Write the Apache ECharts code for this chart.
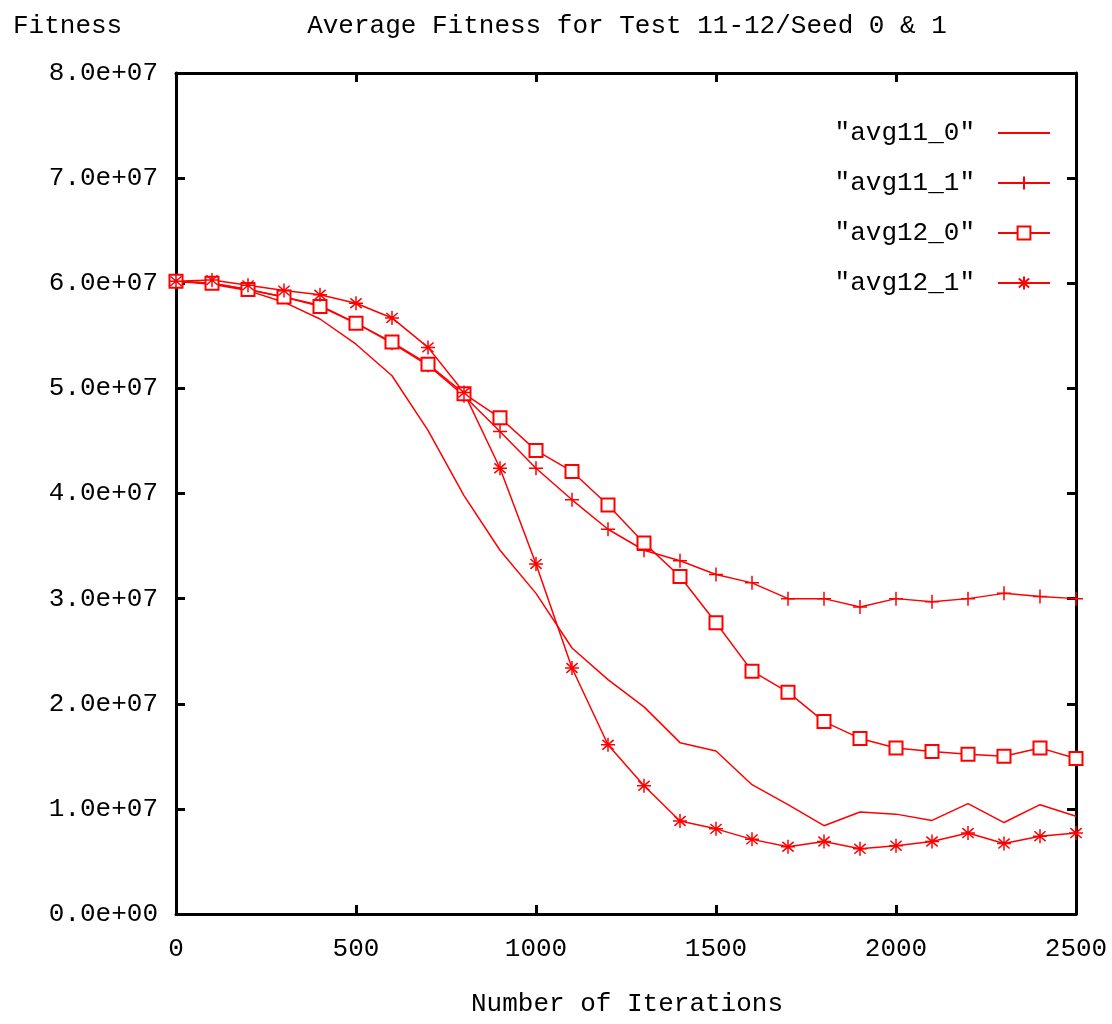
<!DOCTYPE html>
<html>
<head>
<meta charset="utf-8">
<script src="https://cdn.jsdelivr.net/npm/echarts@6/dist/echarts.min.js"></script>
<style>
html,body{margin:0;padding:0;background:#fff;}
#chart{width:1112px;height:1024px;}
</style>
</head>
<body>
<div id="chart"></div>
<script>
const iterations = [0,100,200,300,400,500,600,700,800,900,1000,1100,1200,1300,1400,1500,1600,1700,1800,1900,2000,2100,2200,2300,2400,2500];
const avg11_0 = [6.02e7,5.99e7,5.93e7,5.82e7,5.66e7,5.42e7,5.12e7,4.6e7,3.98e7,3.46e7,3.05e7,2.53e7,2.23e7,1.97e7,1.63e7,1.55e7,1.23e7,1.04e7,0.84e7,0.97e7,0.95e7,0.89e7,1.05e7,0.87e7,1.04e7,0.93e7];
const avg11_1 = [6.02e7,6.0e7,5.94e7,5.87e7,5.79e7,5.62e7,5.43e7,5.22e7,4.93e7,4.59e7,4.24e7,3.94e7,3.66e7,3.46e7,3.36e7,3.23e7,3.15e7,3.0e7,3.0e7,2.92e7,3.0e7,2.97e7,3.0e7,3.05e7,3.02e7,3.0e7];
const avg12_0 = [6.02e7,6.0e7,5.94e7,5.87e7,5.78e7,5.62e7,5.44e7,5.23e7,4.95e7,4.72e7,4.41e7,4.21e7,3.89e7,3.53e7,3.21e7,2.77e7,2.31e7,2.11e7,1.83e7,1.67e7,1.58e7,1.545e7,1.52e7,1.50e7,1.58e7,1.48e7];
const avg12_1 = [6.02e7,6.03e7,5.98e7,5.93e7,5.89e7,5.81e7,5.67e7,5.39e7,4.96e7,4.24e7,3.33e7,2.34e7,1.61e7,1.22e7,0.885e7,0.81e7,0.71e7,0.64e7,0.69e7,0.62e7,0.65e7,0.69e7,0.77e7,0.67e7,0.74e7,0.77e7];
const seriesNames = ['"avg11_0"','"avg11_1"','"avg12_0"','"avg12_1"'];

const FONT = '"Liberation Mono", "DejaVu Sans Mono", monospace';
const RED = '#ff0000';
const pairs = arr => iterations.map((x,i)=>[x,arr[i]]);

const PLUS = 'path://M0,-1L0,1M-1,0L1,0';
const STAR = 'path://M0,-1L0,1M-1,0L1,0M-0.8,-0.7L0.8,0.7M-0.8,0.7L0.8,-0.7';

const chart = echarts.init(document.getElementById('chart'), null, {renderer:'canvas'});

function mk(name, data, symbol, size){
  return {
    name, type:'line', data: pairs(data),
    symbol: symbol, symbolSize: size, showSymbol: symbol !== 'none',
    lineStyle:{color:RED, width:1.5},
    itemStyle: {color:RED, borderColor:RED, borderWidth:1.5},
    emphasis:{disabled:true},
    animation:false,
    clip:false,
    z: 3
  };
}

const axisCommon = {
  axisLine:{show:true, onZero:false, lineStyle:{color:'#000', width:3}},
  axisTick:{show:true, inside:true, length:9, lineStyle:{color:'#000', width:3}},
  splitLine:{show:false}
};

chart.setOption({
  backgroundColor:'#fff',
  animation:false,
  title:[
    {text:'Average Fitness for Test 11-12/Seed 0 & 1', left:622, top:8, textAlign:'center',
     textStyle:{fontFamily:FONT, fontSize:26, fontWeight:'normal', color:'#000'}},
    {text:'Fitness', left:8, top:8,
     textStyle:{fontFamily:FONT, fontSize:26, fontWeight:'normal', color:'#000'}},
    {text:'Number of Iterations', left:622, top:986, textAlign:'center',
     textStyle:{fontFamily:FONT, fontSize:26, fontWeight:'normal', color:'#000'}}
  ],
  legend:{
    orient:'vertical', right:56, top:115, align:'right',
    itemWidth:52, itemHeight:16, itemGap:24,
    textStyle:{fontFamily:FONT, fontSize:26, color:'#000', padding:[0,18,0,0]},
    data: [
      {name: seriesNames[0], itemStyle:{color:'rgba(0,0,0,0)', borderColor:'rgba(0,0,0,0)', borderWidth:0, opacity:0}},
      seriesNames[1], seriesNames[2], seriesNames[3]
    ]
  },
  grid:{left:176, right:36, top:73, bottom:110, containLabel:false},
  xAxis:[
    Object.assign({type:'value', min:0, max:2500, interval:500, position:'bottom',
      axisLabel:{fontFamily:FONT, fontSize:26, color:'#000', margin:22, formatter: v => String(v)}}, axisCommon),
    Object.assign({type:'value', min:0, max:2500, interval:500, position:'top',
      axisLabel:{show:false}}, axisCommon)
  ],
  yAxis:[
    Object.assign({type:'value', min:0, max:8e7, interval:1e7, position:'left',
      axisLabel:{fontFamily:FONT, fontSize:26, color:'#000', margin:18,
        formatter: v => v===0 ? '0.0e+00' : (v/1e7).toFixed(1)+'e+07'}}, axisCommon),
    Object.assign({type:'value', min:0, max:8e7, interval:1e7, position:'right',
      axisLabel:{show:false}}, axisCommon)
  ],
  series:[
    mk(seriesNames[0], avg11_0, 'none', 0),
    mk(seriesNames[1], avg11_1, PLUS, 14),
    mk(seriesNames[2], avg12_0, 'emptyRect', 13),
    mk(seriesNames[3], avg12_1, STAR, 14)
  ]
});
</script>
</body>
</html>
